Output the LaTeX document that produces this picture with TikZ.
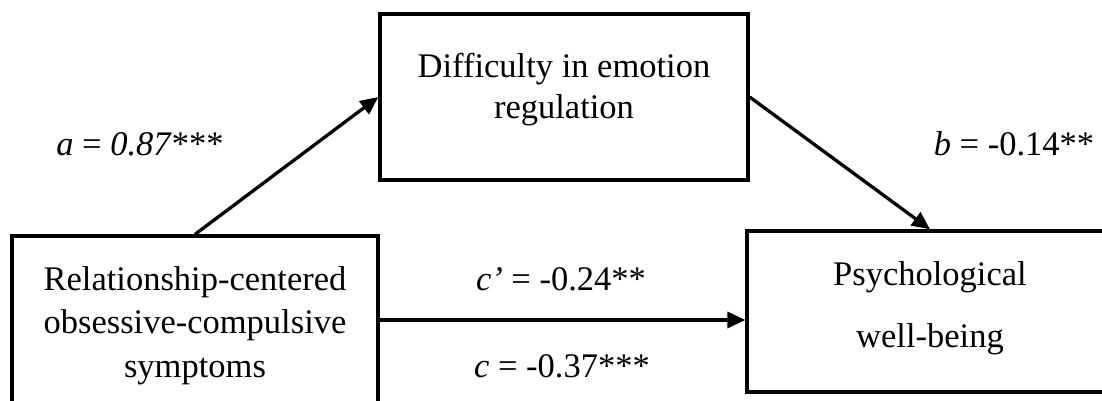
\documentclass[tikz,border=0pt]{standalone}
\usepackage{fontspec}
\setmainfont{Liberation Serif}
\usetikzlibrary{arrows.meta}
\newcommand{\boxtext}[3]{\raisebox{#1}[\height][\depth]{\fontsize{34.5}{#2}\selectfont\begin{tabular}{@{}c@{}}#3\end{tabular}}}
\begin{document}
\begin{tikzpicture}[x=1pt,y=-1pt,
  box/.style={draw, line width=3.3pt, rectangle, inner sep=0pt},
  conn/.style={-{Triangle[length=18pt,width=16pt]}, line width=3.3pt},
  lbl/.style={font=\fontsize{34.5}{40}\selectfont, inner sep=0pt, anchor=base}]
\useasboundingbox (0,0) rectangle (1102,401);
\clip (0,0) rectangle (1102,401);
\fill[white] (0,0) rectangle (1102,401);
\node[box, minimum width=366pt, minimum height=180pt] (iv) at (195,326)
  {\boxtext{1.2pt}{43.5}{Relationship-centered\\obsessive-compulsive\\symptoms}};
\node[box, minimum width=368pt, minimum height=166pt] (med) at (564,97)
  {\boxtext{7pt}{40}{Difficulty in emotion\\regulation}};
\node[box, minimum width=366pt, minimum height=161pt] (dv) at (930,311.5)
  {\boxtext{7.9pt}{62}{Psychological\\well-being}};
\draw[conn] (iv.north) -- (med.west);
\draw[conn] (med.east) -- (dv.north);
\draw[conn] ([yshift=6pt]iv.east) -- ([yshift=-8.5pt]dv.west);
\node[lbl] (la) at (140,155) {\textit{a} = \textit{0.87}***};
\node[lbl] (lb) at (1014,155) {\textit{b} = -0.14**};
\node[lbl] (lcp) at (561,290) {\textit{c’} = -0.24**};
\node[lbl] (lc) at (562,377) {\textit{c} = -0.37***};
\end{tikzpicture}
\end{document}
